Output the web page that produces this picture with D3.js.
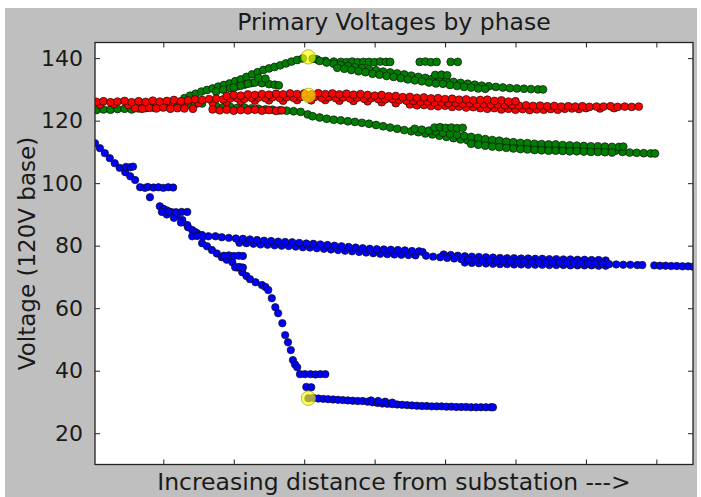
<!DOCTYPE html>
<html>
<head>
<meta charset="utf-8">
<script src="https://cdn.jsdelivr.net/npm/d3@7"></script>
<style>
  body { margin: 0; background: #fff; }
  svg text { font-family: "DejaVu Sans", sans-serif; fill: #1a1a1a; }
</style>
</head>
<body>
<svg id="chart"></svg>
<script>
// distance (hidden units) vs voltage on a 120V base
const yTicks = [20, 40, 60, 80, 100, 120, 140];
const xTicks = [1, 2, 3, 4, 5, 6, 7, 8];

// phase B (green)
const greenLeft = [[0.05,123.4],[0.15,123.6],[0.25,123.5],[0.35,123.7],[0.45,123.8],[0.55,123.6],[0.65,123.9],[0.75,124.0],[0.85,124.2],[0.95,124.4],[1.05,124.5],[1.15,124.7],[1.25,124.9],[1.35,125.1],[1.45,125.3],[1.55,125.5]];
const greenRise = [[1.30,127.2],[1.38,128.0],[1.46,128.6],[1.54,129.3],[1.62,129.8],[1.70,130.3],[1.78,130.9],[1.86,131.4],[1.94,131.9],[2.02,132.6],[2.10,133.2],[2.18,134.0],[2.26,134.8],[2.34,135.5],[2.42,136.2],[2.50,136.7],[2.58,137.2],[2.66,137.7],[2.74,138.3],[2.82,138.9],[2.90,139.4],[2.98,139.9],
  [1.75,129.3],[1.85,129.9],[1.95,130.4],[2.05,131.0],[2.15,131.5],[2.25,132.0],[2.00,130.6],[2.10,131.2],[2.20,131.8],[2.30,132.2],[2.40,132.0],[2.50,131.7],[2.58,131.5],[2.64,131.3],[2.35,133.6],[2.45,133.4]];
const greenTop = [[3.18,139.6],[3.30,139.1],[3.42,138.9],[3.52,138.8],[3.60,138.7],[3.68,138.9],[3.76,138.7],[3.84,138.8],[3.92,138.8],[4.00,138.7],[4.08,138.9],[4.16,138.8],[4.22,138.8],[4.64,138.8],[4.72,138.9],[4.80,138.7],[4.88,138.8],[5.08,138.8],[5.18,138.8]];
const greenUpper = [[3.12,139.8],[3.22,139.1],[3.32,138.6],[3.42,138.2],[3.52,137.8],[3.62,137.5],[3.72,137.1],[3.82,136.8],[3.92,136.5],[4.02,136.1],[4.12,135.7],[4.22,135.4],[4.32,135.1],[4.42,134.8],[4.52,134.4],[4.62,134.0],[4.72,133.7],[4.82,133.4],[4.92,133.0],[5.02,132.7],[5.12,132.4],[5.22,132.1],[5.32,131.8],[5.42,131.5],[5.52,131.2],[5.62,131.0],[5.72,130.8],[5.82,130.6],[5.92,130.4],[6.02,130.3],[6.12,130.2],[6.22,130.1],[6.32,130.0],[6.39,130.0],
  [3.47,136.9],[3.57,136.6],[3.67,136.2],[3.77,135.8],[3.87,135.5],[3.97,135.0],[4.07,134.7],[4.17,134.3],[4.27,134.0],[4.37,133.6],[4.47,133.2],[4.57,132.9],[4.67,132.6],[4.77,132.2],[4.87,131.9],[4.97,131.8],[5.07,131.4],[5.17,131.1],[5.27,130.8],[5.37,130.6],[5.47,130.3],[5.57,130.2],
  [4.86,134.6],[4.95,134.7],[5.03,134.5]];
const greenLower = [[1.75,124.6],[1.85,124.3],[1.95,124.4],[2.05,124.1],[2.15,124.2],[2.25,123.9],[2.35,123.8],[2.45,123.6],[2.55,123.5],[2.65,123.3],[2.75,123.2],[2.85,123.0],[2.95,122.8],[3.05,122.0],[3.12,121.4],[3.22,121.0],[3.32,120.6],[3.42,120.3],[3.52,120.1],[3.62,119.8],[3.72,119.6],[3.82,119.3],[3.92,119.0],[4.02,118.6],[4.12,118.2],[4.22,117.8],[4.32,117.4],[4.42,117.0],
  [4.52,116.6],[4.62,116.3],[4.72,115.9],[4.82,115.6],[4.92,115.2],[5.02,114.8],[5.12,114.4],[5.22,114.0],[5.32,113.7],[5.42,113.4],[5.52,113.1],[5.62,112.8],[5.72,112.5],[5.82,112.3],[5.92,112.0],[6.02,111.8],[6.12,111.7],[6.22,111.5],[6.32,111.4],[6.42,111.3],[6.52,111.2],[6.62,111.2],[6.72,111.1],[6.82,111.0],[6.92,110.9],[7.02,110.8],[7.12,110.7],[7.22,110.6],[7.32,110.5],[7.42,110.4],[7.52,110.0],[7.62,109.8],[7.72,109.7],[7.82,109.6],[7.92,109.5],[7.98,109.5]];
const greenLowerBand = [[4.57,117.4],[4.67,117.1],[4.77,116.8],[4.87,116.5],[4.97,116.1],[5.07,115.8],[5.17,115.5],[5.27,115.1],[5.37,114.8],[5.47,114.5],[5.57,114.1],[5.67,113.8],[5.77,113.6],[5.87,113.3],[5.97,113.1],[6.07,112.9],[6.17,112.8],[6.27,112.6],[6.37,112.5],[6.47,112.4],[6.57,112.4],[6.67,112.2],[6.77,112.1],[6.87,112.0],[6.97,111.9],[7.07,111.8],[7.17,111.8],[7.27,111.7],[7.37,111.6],[7.47,111.6],[7.53,111.7],
  [4.85,117.8],[4.93,117.9],[5.01,117.7],[5.09,117.8],[5.17,117.6],[5.25,117.7],
  [5.37,112.6],[5.47,112.3],[5.57,112.0],[5.67,111.7],[5.77,111.5],[5.87,111.3],[5.97,111.1],[6.07,110.9],[6.17,110.8],[6.27,110.6],[6.37,110.5],[6.47,110.4],[6.57,110.4],[6.67,110.3],[6.77,110.2],[6.87,110.2],[6.97,110.1],[7.07,110.0],[7.17,110.0],[7.27,109.9],[7.37,109.8]];

// phase A (red)
const redMain = [[0.05,126.0],[0.15,126.2],[0.25,125.9],[0.35,126.1],[0.45,126.3],[0.55,125.9],[0.65,126.2],[0.75,126.0],[0.85,126.4],[0.95,126.1],[1.05,126.3],[1.15,126.6],[1.25,126.2],[1.35,126.5],[1.45,126.8],[1.55,126.6],[1.65,126.9],[1.75,127.0],[1.85,126.8],[1.95,127.1],[2.05,127.2],[2.15,127.0],[2.25,127.3],[2.35,127.4],[2.45,127.2],[2.55,127.5],[2.65,127.3],[2.75,127.5],[2.85,127.3],[2.95,127.6],[3.05,127.4],[3.15,127.6],[3.25,127.3],[3.35,127.5],[3.45,127.2],[3.55,127.4],[3.65,127.1],[3.75,127.3],[3.85,127.0],[3.95,127.2],[4.05,126.9],[4.15,126.8],[4.25,126.9],[4.35,126.6],[4.45,126.4],[4.55,126.3],[4.65,126.0],[4.75,126.1],[4.85,125.8],[4.95,125.9],[5.05,125.6],[5.15,125.7],[5.25,125.4],[5.35,125.5],[5.45,125.2],[5.55,125.3],[5.65,125.1],[5.75,125.2],[5.85,124.9],[5.95,125.0],[6.05,124.8],[6.15,124.9],[6.25,124.7],[6.35,124.8],[6.45,124.6],[6.55,124.7],[6.65,124.5],[6.75,124.6],[6.85,124.5],[6.95,124.6],[7.05,124.4],[7.15,124.5],[7.25,124.5],[7.35,124.6],[7.45,124.4],[7.55,124.5],[7.65,124.4],[7.75,124.5]];
const redUpper = [[1.90,127.9],[2.00,128.2],[2.10,128.0],[2.20,128.4],[2.30,128.2],[2.40,128.5],[2.50,128.3],[2.60,128.6],[2.70,128.4],[2.80,128.7],[2.90,128.5],[3.00,128.7],[3.10,128.4],[3.20,128.8],[3.30,128.5],[3.40,128.7],[3.50,128.4],[3.60,128.6],[3.70,128.3],[3.80,128.5],[3.90,128.2],[4.00,128.0],[4.10,128.2],[4.20,127.8],[4.30,127.9],[4.40,127.5],[4.50,127.6],[4.60,127.3],[4.70,127.4],[4.80,127.1],[4.90,127.2],[5.00,126.9],[5.10,127.0],[5.20,126.7],[5.30,126.8],[5.40,126.5],[5.50,126.6],[5.60,126.7],[5.70,126.3],[5.80,126.5],[5.90,126.1],[6.00,126.2]];
const redLower = [[0.10,125.1],[0.30,125.3],[0.50,125.0],[0.70,125.2],[0.90,125.4],[1.10,125.2],[1.30,125.5],[1.50,125.6],[1.70,125.8],[1.90,126.0],[2.10,126.3],[2.30,126.4],[2.50,126.5],[2.70,126.4],[2.90,126.6],[3.10,126.5],[3.30,126.6],[3.50,126.4],[3.70,126.3],[3.90,126.2],[4.10,125.9],[4.30,125.6],[4.50,125.2],[4.60,124.9],[4.70,125.0],[4.80,124.7],[4.90,124.6],[5.00,124.8],[5.10,124.4],[5.20,124.5],[5.30,124.2],[5.40,124.3],[5.50,124.0],[5.60,123.8],[5.70,124.0],[5.80,123.6],[5.90,123.8],[6.00,123.5],[6.10,123.7],[6.20,123.4],[6.30,123.6],[6.40,123.5],[6.50,123.7],[6.60,123.5],[6.70,123.8],[6.80,123.9],[6.90,123.7],[7.00,124.0],[7.20,123.9],[7.40,124.0]];
const redSpurs = [[0.60,124.0],[0.70,123.8],[0.80,124.1],[0.90,123.9],[1.00,124.2],[1.10,123.8],[1.20,124.0],[1.30,123.9],[1.42,123.8],
  [1.70,123.6],[1.80,123.3],[1.90,123.5],[2.00,123.2],[2.10,123.4],[2.20,123.3],[2.30,123.5],[2.40,123.2],[2.50,123.4],[2.60,123.1],[2.68,123.3]];

// phase C (blue)
const blueDrop = [[0.03,112.8],[0.10,111.2],[0.17,109.6],[0.24,108.0],[0.31,106.4],[0.38,104.9],[0.46,103.5],[0.53,102.2],[0.60,101.0],[0.67,98.7],[0.81,95.5],
  [0.95,92.6],[1.00,91.8],[1.05,91.3],[1.12,90.7],[1.19,89.5],[1.27,88.2],[1.34,86.6],[1.41,85.0],[1.48,84.0],[1.55,83.4],[1.05,90.0],[1.15,88.9],[1.25,87.4],[1.35,85.9],[1.45,84.4],
  [1.55,80.8],[1.62,79.8],[1.69,78.6],[1.76,77.5],[1.83,76.3],[1.90,75.5],[1.98,74.7],[2.05,73.0],[2.12,71.5],[2.18,70.3],[2.23,69.3],[2.31,68.3],[2.40,67.4],[2.45,66.8],[2.49,65.8],[2.54,63.2],[2.59,60.3],[2.63,58.4],[2.69,55.2],[2.73,51.4],[2.77,49.1],[2.81,46.6],[2.84,43.4],[2.87,42.0],[2.90,41.1],[2.94,38.9]];
const blueSpurs = [[0.47,105.2],[0.53,105.1],[0.57,105.3],
  [0.74,98.5],[0.78,98.8],[0.86,98.6],[0.93,98.7],[1.00,98.5],[1.07,98.7],[1.14,98.6],
  [0.98,90.8],[1.08,90.9],[1.18,90.7],[1.26,90.8],[1.34,90.8],
  [1.41,83.0],[1.48,83.1],[1.56,82.9],[1.64,83.0],[1.74,83.0],
  [1.86,76.8],[1.93,76.9],[2.00,76.7],[2.07,76.8],[2.13,76.7],
  [2.02,73.1],[2.08,73.2],[2.13,73.0],
  [3.01,38.9],[3.09,38.9],[3.16,38.8],[3.23,38.9],[3.30,38.9],
  [3.03,34.8],[3.10,34.7]];
const blueTail = [[3.06,31.2],[3.13,31.3],[3.20,31.1],[3.27,31.0],[3.34,30.9],[3.41,30.8],[3.48,30.7],[3.55,30.6],[3.62,30.5],[3.69,30.4],[3.76,30.3],[3.83,30.3],[3.90,30.1],[3.97,29.9],[4.04,29.7],[4.11,29.5],[4.18,29.4],[4.25,29.3],[4.32,29.2],[4.39,29.1],[4.46,29.0],[4.53,28.9],[4.60,28.8],[4.67,28.7],[4.74,28.7],[4.81,28.6],[4.88,28.6],[4.95,28.6],[5.02,28.5],[5.09,28.5],[5.16,28.4],[5.23,28.4],[5.30,28.4],[5.37,28.3],[5.44,28.3],[5.51,28.3],[5.58,28.3],[5.65,28.3],[5.68,28.3],
  [3.95,30.5],[4.05,30.3],[4.15,30.1],[4.25,29.8]];
const blueLong = [[1.83,82.7],[1.93,82.5],[2.03,82.3],[2.13,82.2],[2.23,82.0],[2.33,81.8],[2.43,81.6],[2.53,81.5],[2.63,81.3],[2.73,81.2],[2.83,81.1],[2.93,80.9],[3.03,80.7],[3.13,80.6],[3.23,80.4],[3.33,80.2],[3.43,80.0],[3.53,79.8],[3.63,79.6],[3.73,79.4],[3.83,79.2],[3.93,79.0],[4.03,78.9],[4.13,78.8],[4.23,78.7],[4.33,78.6],[4.43,78.5],[4.53,78.3],[4.63,78.2],[4.68,78.0],
  [4.73,76.8],[4.83,76.5],[4.93,76.3],[5.03,76.1],[5.13,75.9],[5.23,75.7],[5.33,75.5],[5.43,75.4],[5.53,75.3],[5.63,75.2],[5.73,75.1],[5.83,75.0],[5.93,75.0],[6.03,74.9],[6.13,74.9],[6.23,74.8],[6.33,74.8],[6.43,74.7],[6.53,74.7],[6.63,74.6],[6.73,74.6],[6.83,74.5],[6.93,74.5],[7.03,74.4],[7.13,74.4],[7.23,74.3],[7.33,74.1],[7.43,74.0],[7.53,73.9],[7.63,73.9],[7.73,73.8],[7.80,73.8],[7.97,73.7],[8.05,73.6],[8.13,73.6],[8.21,73.5],[8.29,73.5],[8.37,73.4],[8.45,73.4],[8.52,73.3]];
const blueLongBand = [[2.08,80.9],[2.18,80.8],[2.28,80.6],[2.38,80.4],[2.48,80.3],[2.58,80.1],[2.68,80.0],[2.78,79.9],[2.88,79.7],[2.98,79.5],[3.08,79.4],[3.18,79.2],[3.28,79.0],[3.38,78.8],[3.48,78.6],[3.58,78.4],[3.68,78.2],[3.78,78.0],[3.88,77.8],[3.98,77.6],[4.08,77.4],[4.18,77.3],[4.28,77.2],[4.38,77.1],[4.48,77.0],[4.58,76.9],
  [4.98,77.2],[5.08,77.0],[5.18,76.8],[5.28,76.6],[5.38,76.5],[5.48,76.4],[5.58,76.3],[5.68,76.2],[5.78,76.1],[5.88,76.0],[5.98,76.0],[6.08,75.9],[6.18,75.9],[6.28,75.8],[6.38,75.8],[6.48,75.7],[6.58,75.7],[6.68,75.6],[6.78,75.6],[6.88,75.5],[6.98,75.5],[7.08,75.4],[7.18,75.4],[7.28,75.3],
  [5.28,74.6],[5.38,74.5],[5.48,74.4],[5.58,74.3],[5.68,74.2],[5.78,74.1],[5.88,74.1],[5.98,74.0],[6.08,74.0],[6.18,73.9],[6.28,73.9],[6.38,73.9],[6.48,73.8],[6.58,73.8],[6.68,73.8],[6.78,73.7],[6.88,73.7],[6.98,73.7],[7.08,73.7],[7.18,73.6],[7.28,73.6]];

// worst point on each phase
const worstPts = [[3.06,140.4],[3.06,128.1],[3.06,31.2]];

const W = 701, H = 497;
const margin = { top: 42.5, right: 8, bottom: 32.5, left: 95 };
const width = W - margin.left - margin.right,
  height = H - margin.top - margin.bottom;

const svg = d3.select("#chart").attr("width", W).attr("height", H);

svg.append("rect")
  .attr("x", 5).attr("y", 8)
  .attr("width", 692).attr("height", H - 8)
  .attr("fill", "#bfbfbf");

const g = svg.append("g")
  .attr("transform", `translate(${margin.left},${margin.top})`);

const x = d3.scaleLinear().domain([0.03, 8.52]).range([0, width]);
const y = d3.scaleLinear().domain([10, 145]).range([height, 0]);

g.append("rect")
  .attr("width", width).attr("height", height)
  .attr("fill", "#fff");

g.append("clipPath").attr("id", "clip")
  .append("rect").attr("width", width).attr("height", height);

const plot = g.append("g").attr("clip-path", "url(#clip)");

function dots(data, color, r) {
  plot.append("g")
    .selectAll("circle")
    .data(data)
    .enter()
    .append("circle")
    .attr("cx", d => x(d[0]))
    .attr("cy", d => y(d[1]))
    .attr("r", r)
    .attr("fill", color)
    .attr("stroke", "#111")
    .attr("stroke-width", 0.7);
}

dots(greenLeft, "#008000", 3.9);
dots(greenRise, "#008000", 3.9);
dots(greenTop, "#008000", 3.9);
dots(greenUpper, "#008000", 3.9);
dots(greenLower, "#008000", 3.9);
dots(greenLowerBand, "#008000", 3.9);
dots(redLower, "#ff0000", 3.9);
dots(redSpurs, "#ff0000", 3.9);
dots(redMain, "#ff0000", 3.9);
dots(redUpper, "#ff0000", 3.9);
dots(blueDrop, "#0000ff", 3.7);
dots(blueSpurs, "#0000ff", 3.7);
dots(blueTail, "#0000ff", 3.7);
dots(blueLongBand, "#0000ff", 3.7);
dots(blueLong, "#0000ff", 3.7);

plot.append("g")
  .selectAll("circle")
  .data(worstPts)
  .enter()
  .append("circle")
  .attr("cx", d => x(d[0]))
  .attr("cy", d => y(d[1]))
  .attr("r", 7.2)
  .attr("fill", "#ffff00")
  .attr("fill-opacity", 0.65)
  .attr("stroke", "#8a8a00")
  .attr("stroke-opacity", 0.6)
  .attr("stroke-width", 1);

// axes, ticks pointing inward on all four sides
const yl = g.append("g")
  .call(d3.axisLeft(y).tickValues(yTicks).tickSizeInner(-5).tickSizeOuter(0).tickPadding(12));
g.append("g")
  .attr("transform", `translate(${width},0)`)
  .call(d3.axisRight(y).tickValues(yTicks).tickSizeInner(-5).tickSizeOuter(0).tickFormat(""));
g.append("g")
  .attr("transform", `translate(0,${height})`)
  .call(d3.axisBottom(x).tickValues(xTicks).tickSizeInner(-5).tickSizeOuter(0).tickFormat(""));
g.append("g")
  .call(d3.axisTop(x).tickValues(xTicks).tickSizeInner(-5).tickSizeOuter(0).tickFormat(""));

g.selectAll(".domain").remove();
g.selectAll(".tick line").attr("stroke", "#222").attr("stroke-width", 1);
yl.selectAll("text")
  .style("font-size", "22px")
  .style("font-family", "DejaVu Sans, sans-serif")
  .attr("fill", "#1a1a1a");

g.append("rect")
  .attr("width", width).attr("height", height)
  .attr("fill", "none")
  .attr("stroke", "#222")
  .attr("stroke-width", 1.3);

svg.append("text")
  .attr("x", margin.left + width / 2)
  .attr("y", 30)
  .attr("text-anchor", "middle")
  .style("font-size", "23.5px")
  .text("Primary Voltages by phase");

svg.append("text")
  .attr("x", margin.left + width / 2)
  .attr("y", 490)
  .attr("text-anchor", "middle")
  .style("font-size", "23.5px")
  .text("Increasing distance from substation --->");

svg.append("text")
  .attr("transform", `translate(35,${margin.top + height / 2}) rotate(-90)`)
  .attr("text-anchor", "middle")
  .style("font-size", "23px")
  .text("Voltage (120V base)");
</script>
</body>
</html>
